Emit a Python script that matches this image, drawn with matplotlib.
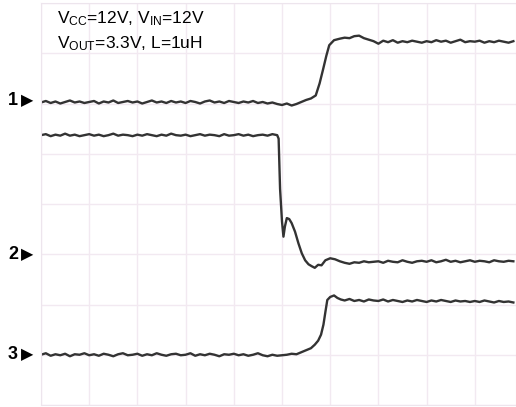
import matplotlib
matplotlib.use('Agg')
import matplotlib.pyplot as plt
import matplotlib.transforms as mtransforms

plt.rcParams['font.family'] = ['Liberation Sans', 'DejaVu Sans']

# scope traces, time and level in screen divisions
T1 = [0.0, 0.1, 0.2, 0.3, 0.4, 0.5, 0.6, 0.7, 0.8, 0.9,
      1.0, 1.1, 1.2, 1.3, 1.4, 1.5, 1.6, 1.7, 1.8, 1.9,
      2.0, 2.1, 2.2, 2.3, 2.4, 2.5, 2.6, 2.7, 2.8, 2.9,
      3.0, 3.1, 3.2, 3.3, 3.4, 3.5, 3.6, 3.7, 3.8, 3.9,
      4.0, 4.1, 4.2, 4.3, 4.4, 4.5, 4.6, 4.7, 4.8, 4.9,
      5.0, 5.1, 5.2, 5.3,
      5.4, 5.5, 5.6, 5.7, 5.78, 5.85, 5.92, 5.98, 6.08, 6.2,
      6.3, 6.4, 6.5, 6.6, 6.7, 6.8, 6.9,
      7.0, 7.1, 7.2, 7.3, 7.4, 7.5, 7.6, 7.7, 7.8, 7.9,
      8.0, 8.1, 8.2, 8.3, 8.4, 8.5, 8.6, 8.7, 8.8, 8.9,
      9.0, 9.1, 9.2, 9.3, 9.4, 9.5, 9.6, 9.7, 9.8]
V1 = [6.02, 6.05, 6.01, 6.04, 6.00, 6.03, 6.06, 6.02, 6.04, 6.01,
      6.03, 6.05, 6.00, 6.04, 6.02, 6.06, 6.01, 6.03, 6.05, 6.02,
      6.04, 6.00, 6.03, 6.06, 6.02, 6.04, 6.01, 6.05, 6.02, 6.04,
      6.01, 6.05, 6.03, 6.00, 6.04, 6.06, 6.02, 6.04, 6.01, 6.05,
      6.03, 6.01, 6.04, 6.02, 6.05, 6.01, 6.03, 6.00, 6.02, 5.99,
      5.97, 6.00, 5.96, 5.99,
      6.03, 6.07, 6.10, 6.16, 6.40, 6.67, 6.95, 7.16, 7.26, 7.29,
      7.31, 7.30, 7.34, 7.35, 7.30, 7.27, 7.24,
      7.19, 7.25, 7.22, 7.26, 7.21, 7.24, 7.22, 7.25, 7.23, 7.21,
      7.24, 7.22, 7.26, 7.23, 7.25, 7.21, 7.24, 7.27, 7.22, 7.24,
      7.23, 7.25, 7.21, 7.24, 7.22, 7.25, 7.23, 7.21, 7.24]

T2 = [0.0, 0.1, 0.2, 0.3, 0.4, 0.5, 0.6, 0.7, 0.8, 0.9,
      1.0, 1.1, 1.2, 1.3, 1.4, 1.5, 1.6, 1.7, 1.8, 1.9,
      2.0, 2.1, 2.2, 2.3, 2.4, 2.5, 2.6, 2.7, 2.8, 2.9,
      3.0, 3.1, 3.2, 3.3, 3.4, 3.5, 3.6, 3.7, 3.8, 3.9,
      4.0, 4.1, 4.2, 4.3, 4.4, 4.5, 4.6, 4.7, 4.8, 4.9,
      4.93, 4.96, 5.0, 5.03, 5.06, 5.1, 5.15, 5.2, 5.27, 5.34,
      5.41, 5.48, 5.55, 5.62, 5.68, 5.75, 5.82, 5.9,
      6.0, 6.1, 6.2, 6.3, 6.4, 6.5, 6.6, 6.7, 6.8, 6.9,
      7.0, 7.1, 7.2, 7.3, 7.4, 7.5, 7.6, 7.7, 7.8, 7.9,
      8.0, 8.1, 8.2, 8.3, 8.4, 8.5, 8.6, 8.7, 8.8, 8.9,
      9.0, 9.1, 9.2, 9.3, 9.4, 9.5, 9.6, 9.7, 9.8]
V2 = [5.37, 5.39, 5.35, 5.38, 5.36, 5.40, 5.36, 5.38, 5.35, 5.37,
      5.39, 5.36, 5.38, 5.35, 5.37, 5.40, 5.36, 5.38, 5.37, 5.35,
      5.38, 5.36, 5.39, 5.37, 5.35, 5.38, 5.36, 5.40, 5.37, 5.36,
      5.38, 5.35, 5.37, 5.39, 5.36, 5.38, 5.37, 5.35, 5.39, 5.36,
      5.37, 5.39, 5.36, 5.38, 5.35, 5.37, 5.38, 5.36, 5.39, 5.37,
      5.30, 4.30, 3.65, 3.35, 3.55, 3.72, 3.70, 3.62, 3.45, 3.22,
      3.02, 2.88, 2.80, 2.76, 2.73, 2.79, 2.78, 2.88,
      2.92, 2.90, 2.86, 2.83, 2.81, 2.84, 2.83, 2.86, 2.84, 2.85,
      2.86, 2.83, 2.87, 2.85, 2.84, 2.88, 2.85, 2.83, 2.86, 2.87,
      2.85, 2.88, 2.84, 2.86, 2.89, 2.85, 2.87, 2.84, 2.86, 2.88,
      2.85, 2.87, 2.86, 2.84, 2.88, 2.86, 2.85, 2.87, 2.86]

T3 = [0.0, 0.1, 0.2, 0.3, 0.4, 0.5, 0.6, 0.7, 0.8, 0.9,
      1.0, 1.1, 1.2, 1.3, 1.4, 1.5, 1.6, 1.7, 1.8, 1.9,
      2.0, 2.1, 2.2, 2.3, 2.4, 2.5, 2.6, 2.7, 2.8, 2.9,
      3.0, 3.1, 3.2, 3.3, 3.4, 3.5, 3.6, 3.7, 3.8, 3.9,
      4.0, 4.1, 4.2, 4.3, 4.4, 4.5, 4.6, 4.7, 4.8, 4.9,
      5.0, 5.1, 5.2, 5.3,
      5.4, 5.5, 5.6, 5.68, 5.75, 5.81, 5.86, 5.9, 5.94, 6.0,
      6.08, 6.15, 6.22,
      6.3, 6.4, 6.5, 6.6, 6.7, 6.8, 6.9,
      7.0, 7.1, 7.2, 7.3, 7.4, 7.5, 7.6, 7.7, 7.8, 7.9,
      8.0, 8.1, 8.2, 8.3, 8.4, 8.5, 8.6, 8.7, 8.8, 8.9,
      9.0, 9.1, 9.2, 9.3, 9.4, 9.5, 9.6, 9.7, 9.8]
V3 = [1.00, 1.03, 0.98, 1.01, 0.99, 1.02, 0.97, 1.01, 1.00, 1.03,
      0.99, 1.01, 0.98, 1.02, 1.00, 0.97, 1.01, 1.03, 0.99, 1.00,
      1.02, 0.98, 1.01, 0.99, 1.03, 1.00, 0.98, 1.01, 1.02, 0.99,
      1.00, 1.03, 0.98, 1.01, 0.99, 1.02, 1.00, 0.97, 1.01, 1.00,
      1.02, 0.99, 1.01, 0.98, 1.00, 1.03, 0.99, 0.97, 1.00, 0.98,
      0.99, 1.00, 1.02, 1.01,
      1.05, 1.09, 1.13, 1.20, 1.28, 1.40, 1.60, 1.85, 2.09, 2.15,
      2.18, 2.13, 2.10,
      2.08, 2.11, 2.07, 2.09, 2.06, 2.10, 2.08,
      2.07, 2.10, 2.06, 2.09, 2.07, 2.05, 2.08, 2.06, 2.09, 2.07,
      2.05, 2.08, 2.06, 2.09, 2.07, 2.05, 2.08, 2.06, 2.07, 2.05,
      2.07, 2.05, 2.08, 2.06, 2.04, 2.07, 2.05, 2.06, 2.04]

channel_labels = ['1', '2', '3']
channel_refs = [6.05, 2.99, 1.01]
note_lines = [r'V$\mathregular{_{CC}}$=12V, V$\mathregular{_{IN}}$=12V',
              r'V$\mathregular{_{OUT}}$=3.3V, L=1uH']

fig = plt.figure(figsize=(5.16, 4.07), dpi=100)
ax = fig.add_axes([41 / 516, 2 / 407, 475 / 516, 402 / 407])

ax.set_xlim(0, 475 / 48.2)
ax.set_ylim(0, 8)
ax.set_xticks(range(0, 10))
ax.set_yticks(range(0, 9))
ax.grid(True, color='#f2e9f1', linewidth=1.0)
ax.tick_params(length=0, labelbottom=False, labelleft=False)
for s in ax.spines.values():
    s.set_color('#ede5ed')

trace_color = '#333333'
ax.plot(T1, V1, color=trace_color, lw=1.7)
ax.plot(T2, V2, color=trace_color, lw=1.7)
ax.plot(T3, V3, color=trace_color, lw=1.7)

# channel ground markers on the left
trans = mtransforms.blended_transform_factory(fig.transFigure, ax.transData)
for lab, ref in zip(channel_labels, channel_refs):
    ax.text(8 / 516, ref, lab, transform=trans, ha='left', va='center',
            fontsize=13, fontweight='bold', clip_on=False)
    ax.text(21 / 516, ref, '\u25B6', transform=trans, ha='left', va='center',
            fontsize=11.5, family='DejaVu Sans', clip_on=False)

fig.text(57 / 516, 1 - 19 / 407, note_lines[0], fontsize=12.5, va='center')
fig.text(57 / 516, 1 - 44 / 407, note_lines[1], fontsize=12.5, va='center')

fig.savefig('out.png', dpi=100)
